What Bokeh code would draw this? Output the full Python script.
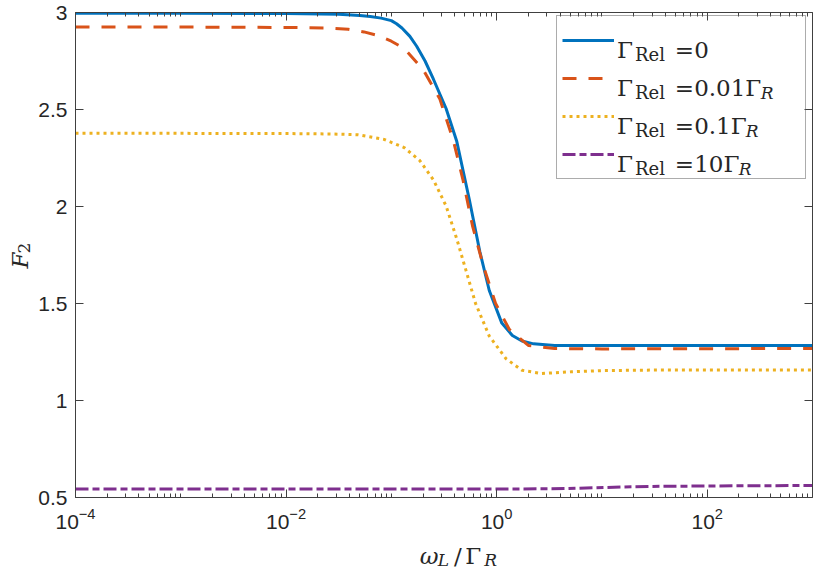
from bokeh.plotting import figure
from bokeh.layouts import row, column
from bokeh.models import (Range1d, FixedTicker, LogAxis, LinearAxis, CustomJSTickFormatter,
                          Legend, LegendItem)
from bokeh.embed import file_html
from bokeh.resources import INLINE
from bokeh.core.properties import value

# ---------------- data ----------------
omega_0 = [1e-4, 1e-3, 0.01, 0.0316, 0.0501, 0.0631, 0.08, 0.1, 0.112, 0.126, 0.15, 0.174, 0.209,
           0.251, 0.331, 0.417, 0.550, 0.692, 0.851, 1.12, 1.41, 1.74, 2.24, 3.55, 10, 100, 1000]
F2_0 = [2.996, 2.996, 2.995, 2.991, 2.985, 2.979, 2.971, 2.958, 2.942, 2.92, 2.877, 2.826, 2.75,
        2.656, 2.505, 2.338, 2.036, 1.768, 1.567, 1.399, 1.335, 1.307, 1.292, 1.284, 1.283,
        1.284, 1.284]

omega_001 = [1e-4, 1e-3, 0.01, 0.0251, 0.0389, 0.055, 0.0741, 0.1, 0.132, 0.2, 0.288, 0.389,
             0.479, 0.589, 0.741, 0.977, 1.32, 2.0, 3.55, 10, 100, 1000]
F2_001 = [2.925, 2.925, 2.923, 2.92, 2.914, 2.90, 2.882, 2.852, 2.815, 2.706, 2.556, 2.338,
          2.137, 1.902, 1.701, 1.50, 1.366, 1.284, 1.268, 1.266, 1.267, 1.268]

omega_01 = [1e-4, 1e-3, 0.01, 0.0251, 0.0479, 0.0851, 0.132, 0.186, 0.251, 0.331, 0.417, 0.513,
            0.631, 0.851, 1.23, 1.74, 2.69, 5.13, 10, 31.6, 100, 1000]
F2_01 = [2.377, 2.377, 2.376, 2.374, 2.37, 2.346, 2.304, 2.237, 2.137, 2.003, 1.835, 1.668,
         1.50, 1.332, 1.215, 1.156, 1.139, 1.148, 1.154, 1.157, 1.157, 1.157]

omega_10 = [1e-4, 0.01, 1, 2.51, 4.79, 8.51, 15.1, 28.8, 85.1, 316, 1000]
F2_10 = [0.544, 0.544, 0.544, 0.5445, 0.546, 0.550, 0.554, 0.557, 0.559, 0.561, 0.5616]

x_major_ticks = [1e-4, 1e-2, 1, 1e2]
x_minor_ticks = [m * 10.0 ** e for e in range(-4, 3) for m in range(1, 10)] + [1e3]
y_ticks = [0.5, 1, 1.5, 2, 2.5, 3]

legend_values = ["=0", "=0.01\u0393", "=0.1\u0393", "=10\u0393"]
legend_has_R = [False, True, True, True]

# ---------------- geometry (page pixels; page has an 8px margin) ----------------
LS_W = 35                      # strip with the y title
MW, MH = 779, 541              # main figure
BS_H = 29                      # strip with the x title
FL, FR, FT, FB = 38, 2, 12, 44
FW = MW - FL - FR
FH = MH - FT - FB
OX, OY = 8 + LS_W, 8           # page position of the main figure
AX = "#404040"
TXT = "#262626"

p = figure(width=MW, height=MH, x_axis_type="log", x_range=Range1d(1e-4, 1e3),
           y_range=Range1d(0.5, 3), output_backend="svg", toolbar_location=None,
           min_border_left=FL, min_border_right=FR, min_border_top=FT, min_border_bottom=FB)
p.grid.visible = False
p.outline_line_color = None
p.background_fill_color = "white"
p.border_fill_color = "white"


def style(ax, labels=True):
    ax.axis_line_color = AX
    ax.axis_line_width = 1
    ax.major_tick_line_color = AX
    ax.minor_tick_line_color = AX
    ax.major_tick_in = 8
    ax.major_tick_out = 0
    ax.minor_tick_in = 4
    ax.minor_tick_out = 0
    ax.major_label_text_color = TXT
    ax.major_label_text_font = "Liberation Sans"
    if labels:
        ax.major_label_text_font_size = "21px"
    else:
        ax.major_label_text_font_size = "0px"
        ax.major_label_standoff = 0


xa = p.xaxis[0]
xa.ticker = FixedTicker(ticks=x_major_ticks, minor_ticks=x_minor_ticks)
style(xa)
xa.major_label_standoff = 10

ya = p.yaxis[0]
ya.ticker = FixedTicker(ticks=y_ticks, minor_ticks=[])
ya.formatter = CustomJSTickFormatter(code="return tick.toString()")
style(ya)
ya.major_label_standoff = 8

top = LogAxis(ticker=FixedTicker(ticks=x_major_ticks, minor_ticks=x_minor_ticks),
              formatter=CustomJSTickFormatter(code="return ''"))
style(top, labels=False)
p.add_layout(top, "above")

right = LinearAxis(ticker=FixedTicker(ticks=y_ticks, minor_ticks=[]),
                   formatter=CustomJSTickFormatter(code="return ''"))
style(right, labels=False)
p.add_layout(right, "right")

# ---------------- series ----------------
r0 = p.line(omega_0, F2_0, line_color="#0072BD", line_width=3)
r1 = p.line(omega_001, F2_001, line_color="#D95319", line_width=3, line_dash="14 12")
r2 = p.line(omega_01, F2_01, line_color="#EDB120", line_width=3, line_dash="3 4")
r3 = p.line(omega_10, F2_10, line_color="#7E2F8E", line_width=3, line_dash="13 4 7 4")

# legend: native samples, texts drawn separately (they need sub-scripts)
LEG_L, LEG_B = 562, 187        # page position of the legend's left / bottom edge
legend = Legend(items=[LegendItem(label=value(" "), renderers=[r]) for r in (r0, r1, r2, r3)],
                location=(LEG_L - OX - FL, (OY + FT + FH) - LEG_B), margin=0, padding=5,
                spacing=0, glyph_height=38, glyph_width=52, label_width=186, label_height=38,
                label_standoff=0, label_text_font_size="1px",
                border_line_color="#595959", border_line_width=1,
                background_fill_alpha=0)
p.add_layout(legend)


def xd(X):
    return 10 ** (-4 + 7 * (X - OX - FL) / FW)


def yd(Y):
    return 3 - 2.5 * (Y - OY - FT) / FH


def texts(fig, xs, ys, strs, size, italic=False, angle=0.0):
    fig.text(x=xs, y=ys, text=strs, text_font=value("DejaVu Serif"),
             text_font_size=value(f"{size}px"),
             text_font_style="italic" if italic else "normal",
             text_color=TXT, text_align="left", text_baseline="alphabetic", angle=angle)


rows_yc = [49 + 38 * i for i in range(4)]
R_x = {1: 768, 2: 753, 3: 746}
texts(p, [xd(624)] * 4, [yd(yc + 8) for yc in rows_yc], ["\u0393"] * 4, 23)
texts(p, [xd(642)] * 4, [yd(yc + 13) for yc in rows_yc], ["Rel"] * 4, 18)
texts(p, [xd(682)] * 4, [yd(yc + 8) for yc in rows_yc], legend_values, 23)
rr = [i for i, h in enumerate(legend_has_R) if h]
texts(p, [xd(R_x[i]) for i in rr], [yd(rows_yc[i] + 13) for i in rr], ["R"] * len(rr), 17,
      italic=True)


def strip(w, h):
    f = figure(width=w, height=h, x_range=Range1d(0, w), y_range=Range1d(0, h),
               output_backend="svg", toolbar_location=None, x_axis_location=None,
               y_axis_location=None, min_border=0)
    f.grid.visible = False
    f.outline_line_color = None
    f.background_fill_color = "white"
    f.border_fill_color = "white"
    return f


# x title strip: page x from OX, page y from OY + MH
bx = strip(MW, BS_H)
BY0 = OY + MH + BS_H           # page y of the strip's bottom edge
TB = 563                       # page baseline of the x title
texts(bx, [407 - OX], [BY0 - TB], ["\u03c9"], 23, italic=True)
texts(bx, [426 - OX], [BY0 - TB - 4], ["L"], 17, italic=True)
texts(bx, [443 - OX, 455 - OX], [BY0 - TB, BY0 - TB], ["/", "\u0393"], 23)
texts(bx, [475 - OX], [BY0 - TB - 4], ["R"], 17, italic=True)

# y title strip: page x from 8, full height
ly = strip(LS_W, MH + BS_H)
LY0 = 8 + MH + BS_H            # page y of the strip's bottom edge
texts(ly, [27 - 8], [LY0 - 276], ["F"], 23, italic=True, angle=1.5708)
texts(ly, [31 - 8], [LY0 - 261], ["2"], 17, angle=1.5708)

layout = row(ly, column(p, bx, spacing=0), spacing=0)
open("out.html", "w").write(file_html(layout, INLINE))
